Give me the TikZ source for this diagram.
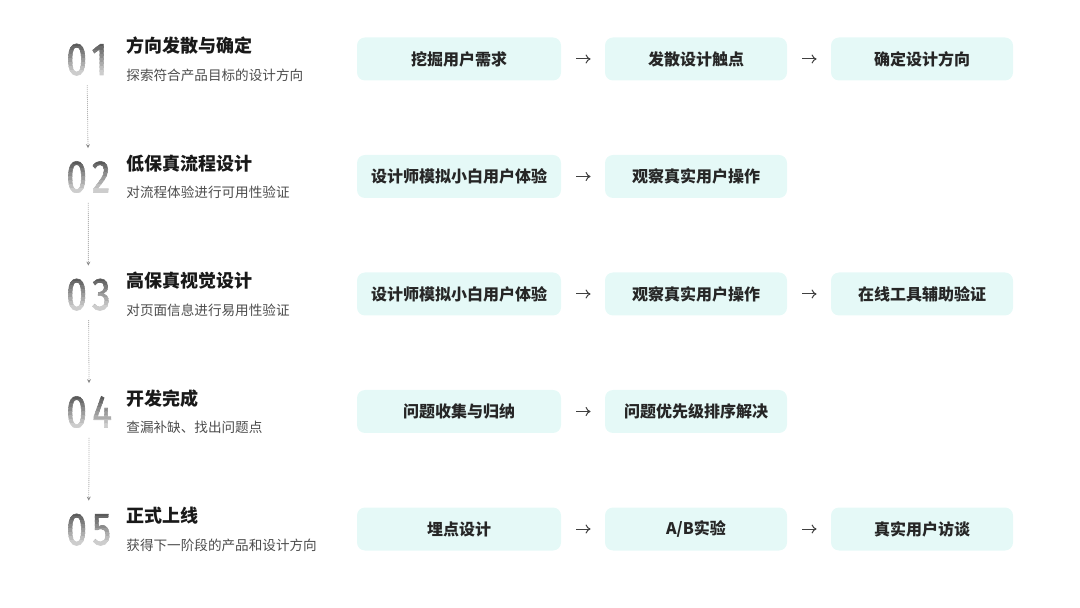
\documentclass[tikz,border=0pt]{standalone}
\usepackage{fontspec}
\setmainfont{Noto Sans CJK SC}
\newfontfamily\numfont{Fira Sans}[FakeStretch=0.8, LetterSpace=12, FakeBold=1.2]
\usetikzlibrary{arrows.meta}
\definecolor{boxfill}{RGB}{229,249,247}
\definecolor{numtop}{RGB}{90,90,90}
\definecolor{numbot}{RGB}{205,205,205}

\begin{document}
\begin{tikzpicture}[x=0.5pt, y=-0.5pt,
    stepbox/.style={fill=boxfill, rounded corners=4pt, minimum height=21.5pt, inner sep=0pt,
        font=\bfseries\fontsize{8}{10}\selectfont, text=black!85},
    wide/.style={stepbox, minimum width=102pt},
    narrow/.style={stepbox, minimum width=91pt},
    num/.style={font=\numfont\fontsize{23}{23}\selectfont, inner sep=0pt,
        text height=16pt, text depth=0pt, anchor=west},
    title/.style={font=\bfseries\fontsize{9}{10}\selectfont, text=black!90, anchor=west, inner sep=0pt},
    sub/.style={font=\fontsize{6.8}{8}\selectfont, text=black!70, anchor=west, inner sep=0pt},
    flow/.style={-{To[length=2.5pt,width=4.5pt]}, line width=0.5pt, black!75, shorten <=7.5pt, shorten >=7pt},
    down/.style={-{Stealth[length=2pt,width=2pt]}, dash pattern=on 0.4pt off 0.6pt, black!45,
        line width=0.4pt, shorten <=5pt, shorten >=6pt}]

\useasboundingbox (0,0) rectangle (1080,608);

% stages
\node[num, text opacity=0] at (66, 59)    (n1) {01};
\node[title] at (126, 46)   (t1) {方向发散与确定};
\node[sub] at (126, 75)     (d1) {探索符合产品目标的设计方向};
\node[num, text opacity=0] at (66, 176.5) (n2) {02};
\node[title] at (126, 163.5) (t2) {低保真流程设计};
\node[sub] at (126, 192.5)  (d2) {对流程体验进行可用性验证};
\node[num, text opacity=0] at (66, 294)   (n3) {03};
\node[title] at (126, 281)  (t3) {高保真视觉设计};
\node[sub] at (126, 310)    (d3) {对页面信息进行易用性验证};
\node[num, text opacity=0] at (66, 411.5) (n4) {04};
\node[title] at (126, 398.5) (t4) {开发完成};
\node[sub] at (126, 427.5)  (d4) {查漏补缺、找出问题点};
\node[num, text opacity=0] at (66, 529)   (n5) {05};
\node[title] at (126, 516)  (t5) {正式上线};
\node[sub] at (126, 545)    (d5) {获得下一阶段的产品和设计方向};

% shaded digits, dark at the top fading to light grey
\foreach \i/\y in {1/59, 2/176.5, 3/294, 4/411.5, 5/529}
    \foreach \k in {0,...,7} {
        \pgfmathsetmacro\p{100-\k*100/7}
        \begin{scope}
            \clip (60, \y-16.2+4*\k) rectangle (125, \y-11.8+4*\k);
            \node[num, text=numtop!\p!numbot] at (66, \y) {0\i};
        \end{scope}
    }

% steps
\node[wide] at (459, 59)      (b11) {挖掘用户需求};
\node[narrow] at (696, 59)    (b12) {发散设计触点};
\node[narrow] at (922, 59)    (b13) {确定设计方向};
\node[wide] at (459, 176.5)   (b21) {设计师模拟小白用户体验};
\node[narrow] at (696, 176.5) (b22) {观察真实用户操作};
\node[wide] at (459, 294)     (b31) {设计师模拟小白用户体验};
\node[narrow] at (696, 294)   (b32) {观察真实用户操作};
\node[narrow] at (922, 294)   (b33) {在线工具辅助验证};
\node[wide] at (459, 411.5)   (b41) {问题收集与归纳};
\node[narrow] at (696, 411.5) (b42) {问题优先级排序解决};
\node[wide] at (459, 529)     (b51) {埋点设计};
\node[narrow] at (696, 529)   (b52) {A/B实验};
\node[narrow] at (922, 529)   (b53) {真实用户访谈};

\path
    (b11.east) edge[flow] (b12.west)
    (b12.east) edge[flow] (b13.west)
    (b21.east) edge[flow] (b22.west)
    (b31.east) edge[flow] (b32.west)
    (b32.east) edge[flow] (b33.west)
    (b41.east) edge[flow] (b42.west)
    (b51.east) edge[flow] (b52.west)
    (b52.east) edge[flow] (b53.west)
    (n1) edge[down] (n2)
    (n2) edge[down] (n3)
    (n3) edge[down] (n4)
    (n4) edge[down] (n5);

\end{tikzpicture}
\end{document}
